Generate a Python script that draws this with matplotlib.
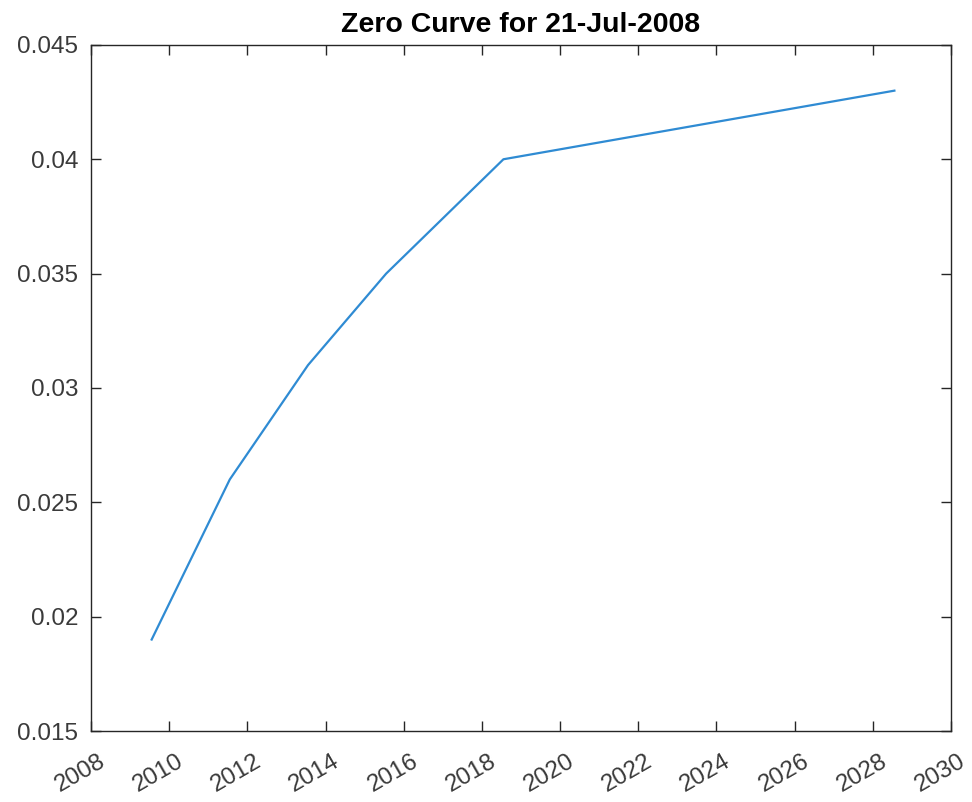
import matplotlib
matplotlib.use("Agg")
import matplotlib.pyplot as plt
import matplotlib.transforms as mtransforms
from datetime import datetime

dates = ["2009-07-21", "2011-07-21", "2013-07-21", "2015-07-21", "2018-07-21", "2028-07-21"]
rates = [0.019, 0.026, 0.031, 0.035, 0.040, 0.043]
tick_years = list(range(2008, 2031, 2))
y_ticks = [0.015, 0.02, 0.025, 0.03, 0.035, 0.04, 0.045]
y_labels = ["0.015", "0.02", "0.025", "0.03", "0.035", "0.04", "0.045"]

plt.rcParams['font.family'] = ['Liberation Sans', 'DejaVu Sans']

x = [datetime.strptime(d, "%Y-%m-%d") for d in dates]

fig = plt.figure(figsize=(9.72, 8.02), dpi=100)
ax = fig.add_axes([0.0936, 0.0885, 0.8848, 0.8555])
ax.plot(x, rates, color="#2f8bd3", linewidth=1.6)

ax.set_xlim(datetime(2008, 1, 1), datetime(2030, 1, 1))
ax.set_ylim(0.015, 0.045)
xt = [datetime(y, 1, 1) for y in tick_years]
ax.set_xticks(xt)
ax.set_xticklabels([str(y) for y in tick_years], rotation=30, ha='right',
                   va='top', rotation_mode='anchor')
ax.set_yticks(y_ticks)
ax.set_yticklabels(y_labels)

gray = "#262626"
lab = "#3a3a3a"
for s in ax.spines.values():
    s.set_color(gray)
    s.set_linewidth(1.0)
ax.tick_params(axis='both', direction='in', length=7, width=1.0, colors=gray,
               labelsize=17.5, top=True, right=True, labelcolor=lab)
ax.tick_params(axis='x', pad=14)
ax.tick_params(axis='y', pad=9)

offset = mtransforms.ScaledTranslation(7 / 100, 0, fig.dpi_scale_trans)
for lbl in ax.get_xticklabels():
    lbl.set_transform(lbl.get_transform() + offset)

ax.set_title("Zero Curve for 21-Jul-2008", fontsize=20.5, fontweight='bold', pad=9)

fig.savefig("out.png", dpi=100)
